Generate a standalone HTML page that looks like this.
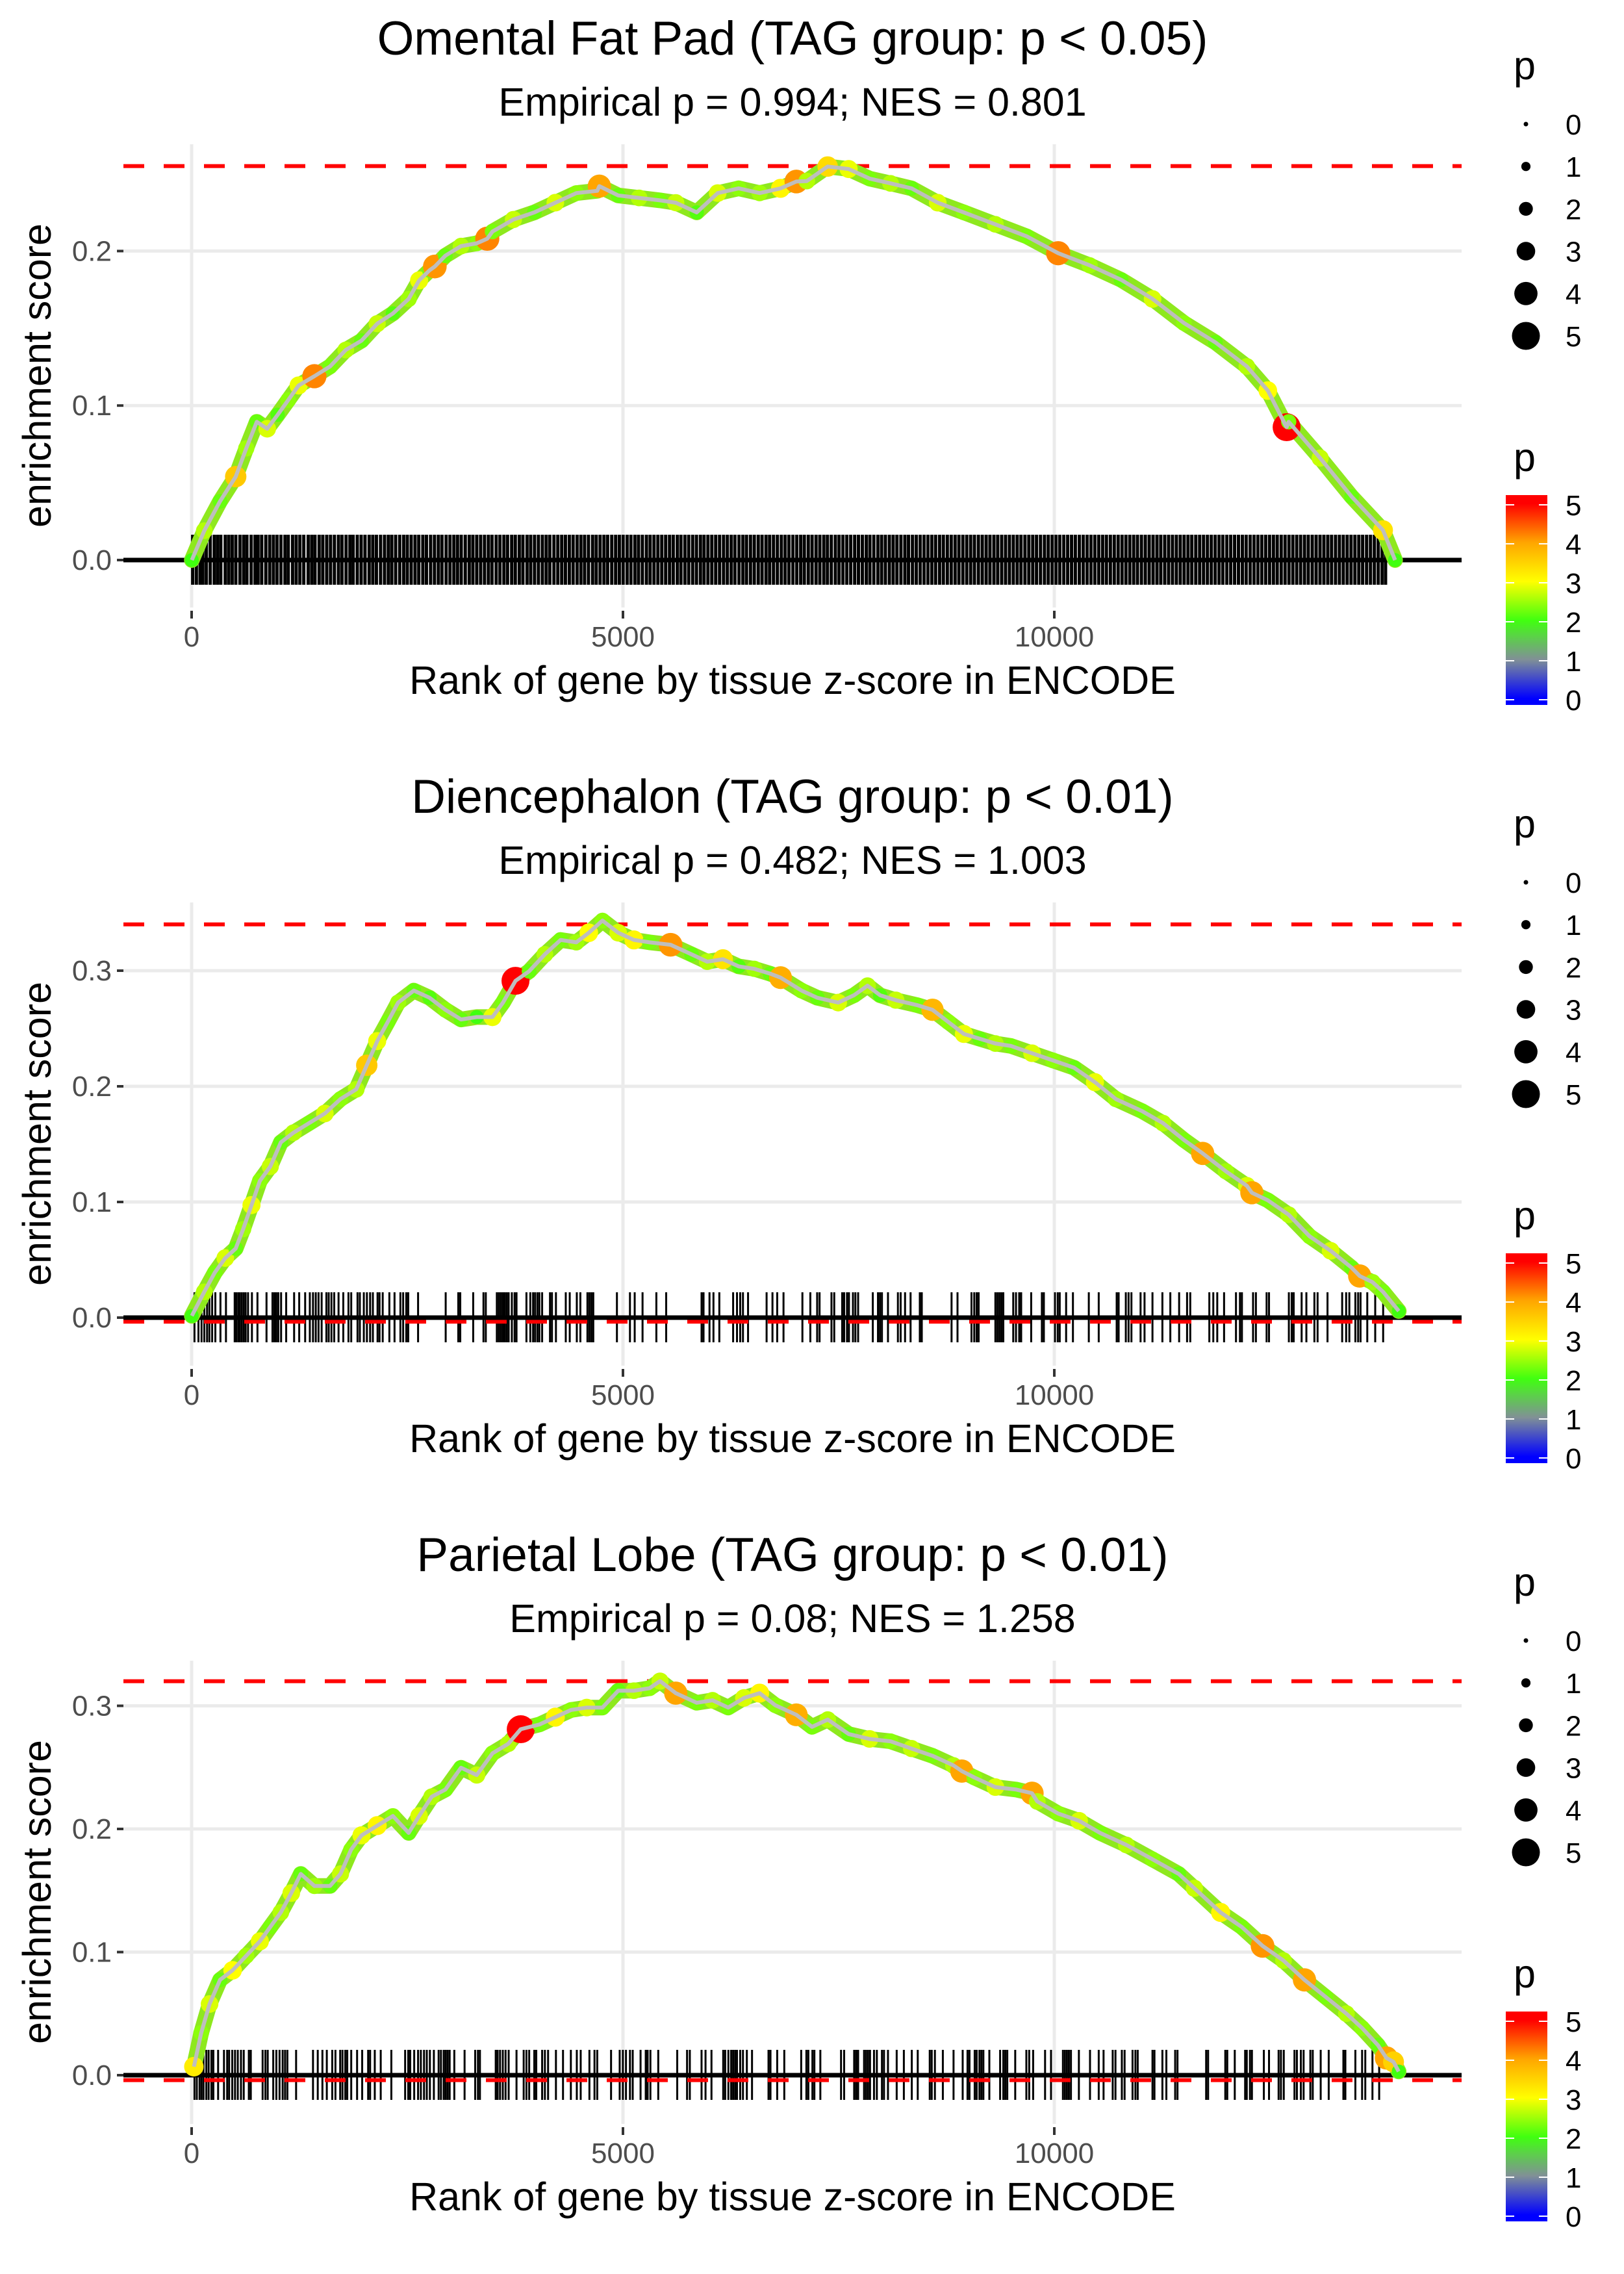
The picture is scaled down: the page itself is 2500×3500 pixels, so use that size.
<!DOCTYPE html>
<html><head><meta charset="utf-8"><style>
html,body{margin:0;padding:0;background:#fff;}
svg{display:block;font-family:"Liberation Sans",sans-serif;}
</style></head><body>
<svg id="chart" xmlns="http://www.w3.org/2000/svg" width="2500" height="3500" viewBox="0 0 2500 3500"></svg>
<script>
// ---------- data ----------
const titles = ["Omental Fat Pad (TAG group: p < 0.05)","Diencephalon (TAG group: p < 0.01)","Parietal Lobe (TAG group: p < 0.01)"];
const subtitles = ["Empirical p = 0.994; NES = 0.801","Empirical p = 0.482; NES = 1.003","Empirical p = 0.08; NES = 1.258"];
const yTicks1 = [0.0,0.1,0.2];
const yTicks2 = [0.0,0.1,0.2,0.3];
const yTicks3 = [0.0,0.1,0.2,0.3];
const yTickLabels1 = ["0.0","0.1","0.2"];
const yTickLabels2 = ["0.0","0.1","0.2","0.3"];
const yTickLabels3 = ["0.0","0.1","0.2","0.3"];
const xTicks = [0,5000,10000];
const xTickLabels = ["0","5000","10000"];
const maxES = [0.255,0.340,0.320];
const minES = [0.0,-0.0035,-0.004];
const legendValues = [0,1,2,3,4,5];

const rank1 = [2,147,329,511,633,755,876,997,1119,1240,1423,1605,1787,1969,2151,2333,2516,2637,2759,2819,2941,3123,3305,3427,3487,3730,3973,4216,4459,4702,4726,4945,5187,5430,5612,5855,6098,6341,6584,6827,7010,7131,7373,7616,7859,8102,8345,8649,8952,9317,9681,10045,10410,10774,11139,11503,11867,12232,12475,12693,12717,13082,13446,13810,13950];
const es1 = [0.0,0.019,0.038,0.054,0.0723,0.0895,0.085,0.094,0.1035,0.113,0.119,0.1253,0.136,0.142,0.153,0.1596,0.169,0.181,0.1876,0.19,0.197,0.2032,0.205,0.208,0.2126,0.2204,0.225,0.2313,0.2375,0.239,0.242,0.236,0.2344,0.2328,0.2313,0.225,0.2375,0.2406,0.2375,0.2406,0.245,0.2453,0.2547,0.2531,0.2469,0.2438,0.2406,0.2313,0.225,0.2173,0.2095,0.1986,0.1908,0.1814,0.169,0.1534,0.1409,0.1253,0.1097,0.086,0.0895,0.066,0.0411,0.0193,0.0];
const p1 = [2,2.6,2.2,3.6,2.5,2.2,2.8,2.1,2.4,2.9,4.2,2.3,2.6,2.2,2.7,2.1,2.5,2.9,2.3,4.1,2.2,2.6,2.4,4.2,2.3,2.7,2.2,2.8,2.4,2.3,4.0,2.2,2.6,2.3,2.7,2.1,2.8,2.4,2.5,3.1,4.1,2.6,3.4,2.9,2.3,2.6,2.2,2.8,2.4,2.6,2.3,4.2,2.5,2.2,2.8,2.4,2.2,2.6,3.0,5.0,2.3,2.7,2.2,3.3,2.0];

const rank2 = [2,147,269,390,511,597,694,791,912,1034,1180,1362,1544,1726,1908,2030,2151,2273,2394,2576,2758,2941,3123,3305,3487,3609,3754,3912,4094,4277,4459,4604,4762,4945,5127,5309,5552,5795,5977,6159,6341,6523,6706,6827,7070,7252,7495,7677,7835,7981,8163,8406,8588,8770,8952,9135,9317,9499,9742,9985,10228,10471,10713,11017,11260,11503,11720,11989,12232,12290,12474,12717,12960,13203,13446,13540,13689,13811,13993];
const es2 = [0.0015,0.0223,0.039,0.0515,0.0598,0.0765,0.0973,0.1182,0.1307,0.1515,0.1599,0.1682,0.1765,0.189,0.1974,0.2182,0.2391,0.2557,0.2724,0.2828,0.2766,0.2662,0.2578,0.2599,0.2599,0.2724,0.2912,0.2995,0.3141,0.3266,0.3245,0.3328,0.3433,0.3328,0.3266,0.3245,0.3224,0.3141,0.3078,0.3099,0.3037,0.3016,0.2974,0.294,0.2828,0.2766,0.2724,0.2787,0.287,0.2787,0.2745,0.2703,0.2662,0.2557,0.2453,0.2411,0.237,0.2349,0.2286,0.2224,0.2161,0.2036,0.189,0.1786,0.1682,0.1536,0.142,0.1265,0.114,0.108,0.1015,0.089,0.0703,0.0578,0.0432,0.036,0.0307,0.0223,0.0057];
const p2 = [2.0,2.6,2.3,2.8,2.2,2.5,2.9,2.4,2.7,2.2,2.6,2.3,2.8,2.4,2.6,3.6,2.9,2.3,2.5,2.2,2.1,2.4,2.2,2.0,2.9,2.3,5.0,2.2,2.6,2.3,2.5,3.0,2.4,2.8,3.1,2.3,4.1,2.2,2.6,3.3,2.1,2.5,2.2,3.9,2.4,2.2,2.8,2.3,2.6,2.1,2.7,2.3,3.8,2.4,2.9,2.2,2.6,2.3,2.8,2.4,2.2,2.9,2.5,2.3,2.6,2.3,4.0,2.5,2.8,4.0,2.3,2.6,2.4,2.8,2.2,4.0,2.5,2.3,2.0];

const rank3 = [26,111,208,329,475,633,791,912,1034,1155,1265,1423,1605,1726,1848,1969,2151,2333,2516,2637,2783,2941,3123,3305,3487,3670,3815,4034,4216,4398,4580,4762,4945,5127,5309,5430,5612,5855,6038,6220,6402,6584,6766,7009,7191,7374,7616,7859,8102,8345,8588,8831,8928,9074,9317,9560,9742,9803,10045,10288,10531,10835,11139,11442,11624,11928,12171,12414,12657,12900,13143,13386,13568,13750,13850,13932,13992];
const es3 = [0.0069,0.0343,0.0578,0.0774,0.0852,0.097,0.1087,0.1205,0.1322,0.1479,0.1635,0.1537,0.1537,0.1635,0.1831,0.1948,0.2027,0.2105,0.1968,0.2105,0.2262,0.232,0.2497,0.2438,0.2614,0.2692,0.281,0.2849,0.2908,0.2966,0.2986,0.2986,0.3123,0.3123,0.3143,0.3201,0.3103,0.3025,0.3045,0.2986,0.3064,0.3103,0.3005,0.2927,0.2829,0.2888,0.2771,0.2731,0.2712,0.2653,0.2594,0.2516,0.247,0.2418,0.234,0.232,0.229,0.2223,0.2125,0.2066,0.1968,0.187,0.1753,0.1635,0.1518,0.1322,0.1205,0.105,0.0931,0.0774,0.0637,0.05,0.0383,0.0245,0.014,0.0108,0.003];
const p3 = [3.2,2.4,2.8,2.2,3.0,2.5,2.9,2.3,2.6,2.8,2.2,2.5,2.2,2.7,2.4,2.9,3.1,2.4,2.2,2.8,2.6,2.3,2.2,2.7,2.4,2.6,5.0,2.3,3.1,2.4,2.8,2.3,2.2,2.6,2.4,2.7,4.0,2.3,2.6,2.3,2.8,3.1,2.4,3.9,2.3,2.6,2.2,2.8,2.4,2.7,2.3,2.6,4.0,2.4,2.8,2.3,4.0,2.6,2.4,2.8,2.3,2.6,2.4,2.2,2.7,3.1,2.3,4.1,2.6,4.0,2.3,2.6,2.4,2.2,4.0,3.5,2.0];

const rug1 = [12,55,98,130,170,215,262,300,338,390,430,470,512,560,603,641,690,735,770,812,860,905,948,990,1035,1082,1120,1170,1212,1255,1300,1351,1392,1430,1478,1520,1566,1610,1655,1702,1743,1790,1835,1872,1920,1965,2010,2058,2100,2142,2190,2236,2280,2320,2365,2412,2458,2500,2545,2590,2633,2680,2722,2770,2815,2860,2902,2950,2995,3040,3082,3125,3172,3218,3260,3305,3350,3395,3440,3482,3530,3574,3620,3662,3710,3752,3798,3840,3888,3930,3975,4020,4066,4110,4152,4200,4245,4290,4333,4378,4422,4468,4512,4555,4600,4648,4690,4735,4780,4822,4870,4915,4958,5002,5048,5092,5138,5180,5225,5272,5315,5360,5405,5450,5495,5540,5583,5630,5672,5718,5762,5808,5852,5898,5940,5985,6030,6075,6120,6166,6210,6255,6298,6345,6390,6432,6478,6522,6568,6612,6658,6700,6745,6790,6836,6880,6924,6970,7015,7060,7102,7148,7192,7238,7282,7328,7370,7415,7462,7505,7550,7595,7640,7686,7730,7775,7820,7862,7908,7955,7998,8042,8088,8132,8176,8222,8268,8310,8356,8400,8445,8490,8535,8580,8624,8670,8714,8760,8805,8850,8894,8940,8985,9030,9074,9120,9165,9210,9254,9300,9344,9390,9435,9480,9525,9570,9614,9660,9705,9750,9794,9840,9886,9930,9975,10020,10064,10110,10155,10200,10244,10290,10335,10380,10425,10470,10515,10560,10604,10650,10695,10740,10785,10830,10875,10920,10964,11010,11055,11100,11145,11190,11234,11280,11325,11370,11415,11460,11505,11550,11594,11640,11685,11730,11775,11820,11865,11910,11954,12000,12045,12090,12135,12180,12224,12270,12315,12360,12405,12450,12495,12540,12584,12630,12675,12720,12765,12810,12855,12900,12944,12990,13035,13080,13125,13170,13214,13260,13305,13350,13395,13440,13485,13530,13574,13620,13665,13710,13755,13800,13840];
const rug2 = [33,79,115,147,179,206,238,275,334,398,499,517,540,558,581,604,626,654,699,763,868,937,960,982,1005,1037,1096,1188,1247,1316,1370,1407,1439,1471,1507,1562,1589,1621,1653,1703,1758,1818,1850,1923,1950,1996,2032,2069,2101,2155,2178,2215,2292,2352,2420,2452,2488,2511,2625,2945,3091,3114,3264,3383,3410,3538,3561,3584,3607,3629,3652,3675,3712,3744,3766,3881,3926,3958,3981,4008,4031,4063,4154,4177,4223,4337,4383,4465,4506,4588,4611,4634,4656,4930,5081,5136,5227,5387,5501,5911,5934,6003,6049,6117,6277,6322,6359,6391,6450,6665,6733,6788,6861,7080,7172,7251,7279,7417,7449,7541,7564,7597,7620,7666,7694,7726,7896,7956,7979,8002,8072,8187,8219,8270,8334,8441,8464,8809,8878,9040,9072,9100,9123,9317,9340,9363,9386,9409,9524,9556,9593,9616,9732,9856,9879,10008,10040,10063,10137,10216,10400,10515,10723,10746,10829,10861,10894,11000,11046,11138,11253,11345,11447,11539,11576,11797,11843,11889,11968,12106,12152,12175,12304,12337,12461,12489,12719,12752,12775,12867,12922,13015,13052,13167,13337,13383,13420,13490,13522,13550,13628,13720,13812];
const rug3 = [33,60,92,115,138,170,197,229,252,307,375,412,435,471,503,535,572,604,663,686,823,855,882,946,982,1019,1055,1083,1110,1211,1407,1462,1516,1567,1630,1667,1722,1749,1781,1804,1850,1918,1977,2046,2069,2123,2192,2315,2475,2511,2534,2580,2625,2657,2694,2726,2762,2808,2863,2890,2922,2945,2968,2991,3045,3164,3287,3319,3342,3525,3547,3575,3607,3639,3675,3766,3849,3881,3913,3972,3995,4063,4095,4132,4223,4305,4396,4465,4510,4611,4670,4702,4862,4962,4999,5035,5081,5113,5204,5264,5286,5318,5409,5629,5743,5775,5911,5957,6026,6162,6185,6222,6254,6277,6300,6322,6359,6391,6436,6496,6687,6710,6788,6870,7066,7126,7149,7196,7219,7288,7528,7564,7680,7703,7726,7795,7818,7841,7864,7910,7943,8002,8026,8072,8173,8256,8348,8417,8556,8579,8616,8708,8832,8938,8994,9017,9077,9100,9132,9155,9178,9247,9372,9409,9432,9455,9547,9676,9709,9755,9893,9962,10100,10123,10146,10169,10193,10285,10414,10515,10571,10677,10709,10783,10815,10907,10940,10967,11138,11161,11253,11299,11401,11428,11760,11783,11982,12005,12092,12212,12231,12268,12291,12429,12489,12600,12627,12660,12784,12812,12858,12890,12968,12996,13088,13181,13351,13374,13490,13568,13605,13688,13766];

// ---------- helpers ----------
const NS = "http://www.w3.org/2000/svg";
const svg = document.getElementById("chart");
function mk(tag, attrs, parent, text){
  const e = document.createElementNS(NS, tag);
  for (const k in attrs) e.setAttribute(k, attrs[k]);
  if (text !== undefined) e.textContent = text;
  (parent || svg).appendChild(e);
  return e;
}
const stops = [[0,[0,0,255]],[1,[128,144,150]],[2,[64,255,16]],[3,[255,255,0]],[4,[255,165,0]],[5,[255,0,0]]];
function pColor(p){
  p = Math.max(0, Math.min(5, p));
  for (let i=0;i<stops.length-1;i++){
    const [a,ca]=stops[i],[b,cb]=stops[i+1];
    if (p<=b){const t=(p-a)/(b-a);return "rgb("+ca.map((c,j)=>Math.round(c+(cb[j]-c)*t)).join(",")+")";}
  }
  return "rgb(255,0,0)";
}
function pRadius(p){ return 3.5 + p*3.6; }

const PX0 = 190, PX1 = 2250;
const xScale = r => 295 + r * (664/5000);
const panels = [
  {rank:rank1, es:es1, p:p1, rug:rug1, yt:yTicks1, ytl:yTickLabels1, y0:862, k:2378, rw:5},
  {rank:rank2, es:es2, p:p2, rug:rug2, yt:yTicks2, ytl:yTickLabels2, y0:861, k:1780, rw:3},
  {rank:rank3, es:es3, p:p3, rug:rug3, yt:yTicks3, ytl:yTickLabels3, y0:860, k:1895, rw:3}
];

panels.forEach((P, i) => {
  const oy = i * 1167;
  const yScale = v => oy + P.y0 - v * P.k;
  const g = mk("g", {});
  
  

  const t = mk("text", {x:1220, y:oy+84, "text-anchor":"middle", "font-size":73, fill:"#000"}, g, titles[i]);
  
  
  const st = mk("text", {x:1220, y:oy+178, "text-anchor":"middle", "font-size":61, fill:"#000"}, g, subtitles[i]);
  
  

  // grid
  P.yt.forEach((v, j) => {
    const gl = mk("line", {x1:PX0, x2:PX1, y1:yScale(v), y2:yScale(v), stroke:"#ebebeb", "stroke-width":5}, g);
    
    
    const tk = mk("line", {x1:180, x2:190, y1:yScale(v), y2:yScale(v), stroke:"#333", "stroke-width":4}, g);
    
    
    const tl = mk("text", {x:172, y:yScale(v)+15, "text-anchor":"end", "font-size":44, fill:"#4d4d4d"}, g, P.ytl[j]);
    
    
  });
  xTicks.forEach((v, j) => {
    const gl = mk("line", {x1:xScale(v), x2:xScale(v), y1:oy+222, y2:oy+935, stroke:"#ebebeb", "stroke-width":5}, g);
    
    
    const tk = mk("line", {x1:xScale(v), x2:xScale(v), y1:oy+940, y2:oy+952, stroke:"#333", "stroke-width":4}, g);
    
    
    const tl = mk("text", {x:xScale(v), y:oy+995, "text-anchor":"middle", "font-size":44, fill:"#4d4d4d"}, g, xTickLabels[j]);
    
    
  });
  const xt = mk("text", {x:1220, y:oy+1068, "text-anchor":"middle", "font-size":61, fill:"#000"}, g, "Rank of gene by tissue z-score in ENCODE");
  
  
  const yc = oy + 578;
  const yt = mk("text", {x:0, y:0, transform:"translate(78,"+yc+") rotate(-90)", "text-anchor":"middle", "font-size":61, fill:"#000"}, g, "enrichment score");
  
  

  // rug
  const rg = mk("g", {}, g);
  
  
  P.rug.forEach(r => {
    const l = mk("line", {x1:xScale(r), x2:xScale(r), y1:yScale(0)-39, y2:yScale(0)+38, stroke:"#000", "stroke-width":P.rw}, rg);
    
    
  });

  // red dashed lines
  [maxES[i], minES[i]].forEach((v, j) => {
    const d = mk("line", {x1:PX0, x2:PX1, y1:yScale(v), y2:yScale(v), stroke:"#ff0000", "stroke-width":6, "stroke-dasharray":"32 30"}, g);
    
    
  });
  // zero line
  const z = mk("line", {x1:PX0, x2:PX1, y1:yScale(0), y2:yScale(0), stroke:"#000", "stroke-width":7}, g);
  
  

  const pts = P.rank.map((r, j) => xScale(r).toFixed(1) + "," + yScale(P.es[j]).toFixed(1)).join(" ");
  const band = mk("polyline", {points:pts, fill:"none", stroke:"#8ee81e", "stroke-width":24, "stroke-linejoin":"round", "stroke-linecap":"round"}, g);
  
  
  const dg = mk("g", {}, g);
  
  
  P.rank.forEach((r, j) => {
    const c = mk("circle", {cx:xScale(r), cy:yScale(P.es[j]), r:pRadius(P.p[j]), fill:pColor(P.p[j])}, dg);
    
    
  });
  const line = mk("polyline", {points:pts, fill:"none", stroke:"#bebebe", "stroke-width":6, "stroke-linejoin":"round"}, g);
  
  

  // legends
  const lg = mk("g", {}, g);
  
  
  const lt = mk("text", {x:2330, y:oy+122, "font-size":61, fill:"#000"}, lg, "p");
  
  
  legendValues.forEach((v, j) => {
    const cy = oy + 191 + j * 65.2;
    const c = mk("circle", {cx:2349, cy:cy, r:pRadius(v), fill:"#000"}, lg);
    
    
    const tl = mk("text", {x:2410, y:cy+16, "font-size":44, fill:"#000"}, lg, String(v));
    
    
  });
  const cg = mk("g", {}, g);
  
  
  const ct = mk("text", {x:2330, y:oy+725, "font-size":61, fill:"#000"}, cg, "p");
  
  
  const gid = "grad" + i;
  const defs = mk("defs", {}, cg);
  const lgd = mk("linearGradient", {id:gid, x1:0, y1:1, x2:0, y2:0}, defs);
  for (let s = 0; s <= 50; s++) {
    const pv = s / 10;
    const off = (10 + pv * 60) / 323;
    mk("stop", {offset:off.toFixed(4), "stop-color":pColor(pv)}, lgd);
  }
  const bar = mk("rect", {x:2318, y:oy+762, width:64, height:323, fill:"url(#"+gid+")"}, cg);
  
  
  legendValues.forEach(v => {
    const cy = oy + 1077 - v * 60;
    mk("line", {x1:2318, x2:2331, y1:cy, y2:cy, stroke:"#fff", "stroke-width":2}, cg);
    mk("line", {x1:2369, x2:2382, y1:cy, y2:cy, stroke:"#fff", "stroke-width":2}, cg);
    const tl = mk("text", {x:2410, y:cy+16, "font-size":44, fill:"#000"}, cg, String(v));
    
    
  });
});
</script>
</body></html>
